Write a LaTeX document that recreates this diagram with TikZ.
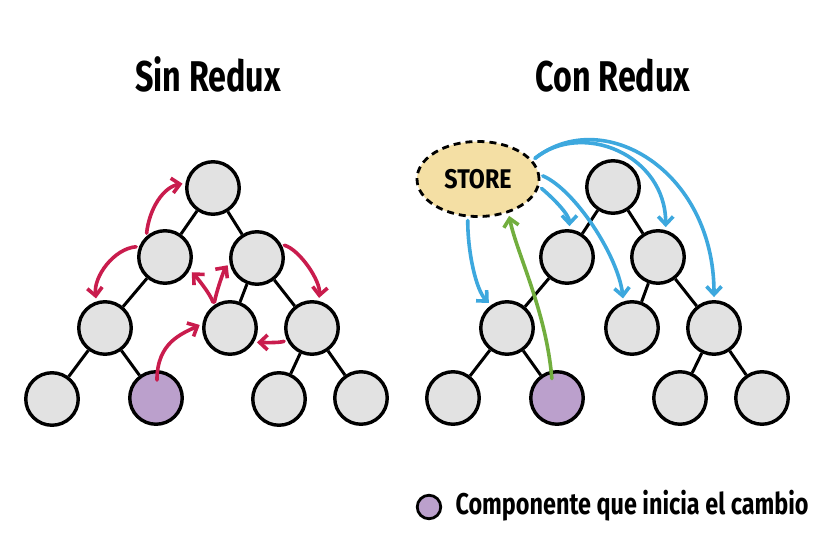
\documentclass[tikz,border=0pt]{standalone}
\usepackage{fontspec}
\setmainfont{Fira Sans}
\usetikzlibrary{arrows.meta}
\usetikzlibrary{shapes.geometric}
\definecolor{nodegray}{HTML}{E2E2E2}
\definecolor{changepurple}{HTML}{BBA0CC}
\definecolor{storeyellow}{HTML}{F4DFA4}
\definecolor{flowred}{HTML}{C91C4D}
\definecolor{flowblue}{HTML}{3DA8DE}
\definecolor{flowgreen}{HTML}{72AE3E}

\begin{document}
\begin{tikzpicture}[x=1pt,y=-1pt,
  comp/.style={circle,draw=black,line width=3.4pt,fill=nodegray,minimum size=52.5pt,inner sep=0pt},
  start/.style={comp,fill=changepurple},
  edge/.style={line width=3pt,draw=black},
  flow/.style={line width=3.6pt,line cap=round,line join=round,shorten >=3pt,shorten <=3pt,
    -{Straight Barb[length=8pt,width=15pt,line width=3.6pt]}},
  redflow/.style={flow,draw=flowred},
  blueflow/.style={flow,draw=flowblue},
  greenflow/.style={flow,draw=flowgreen},
  title/.style={font=\bfseries\fontsize{43}{43}\selectfont,anchor=base}]
  \useasboundingbox (0,0) rectangle (824,537);

  % titles
  \node[title] (tsin) at (208,92) {\scalebox{0.75}[1]{Sin Redux}};
  \node[title] (tcon) at (613,92) {\scalebox{0.75}[1]{Con Redux}};

  % sin redux
  \node[comp] (sr0) at (213,188) {};
  \node[comp] (sl2a) at (165,257) {};
  \node[comp] (sl2b) at (257,258) {};
  \node[comp] (sl3a) at (105,328) {};
  \node[comp] (sl3b) at (230,328) {};
  \node[comp] (sl3c) at (312,328) {};
  \node[comp] (sl4a) at (52,399) {};
  \node[start] (sl4b) at (156,398) {};
  \node[comp] (sl4c) at (279,399) {};
  \node[comp] (sl4d) at (361,398) {};
  \draw[edge] (sr0) -- (sl2a);
  \draw[edge] (sr0) -- (sl2b);
  \draw[edge] (sl2a) -- (sl3a);
  \draw[edge] (sl2b) -- (sl3b);
  \draw[edge] (sl2b) -- (sl3c);
  \draw[edge] (sl3a) -- (sl4a);
  \draw[edge] (sl3a) -- (sl4b);
  \draw[edge] (sl3c) -- (sl4c);
  \draw[edge] (sl3c) -- (sl4d);

  \draw[redflow] (sl2a.132) .. controls +(3,-28) and +(-22,4) .. (sr0.170);
  \draw[redflow] (sl2a.158) .. controls +(-25,2) and +(-3,-25) .. (sl3a.108);
  \draw[redflow] (sl3b.125) .. controls +(-4,-12) and +(6,6) .. (sl2a.-28);
  \draw[redflow] (sl3b.125) .. controls +(2,-12) and +(-6,8) .. (sl2b.190);
  \draw[redflow] (sl2b.29) .. controls +(18,5) and +(2,-20) .. (sl3c.76);
  \draw[redflow] (sl3c.206) .. controls +(-8,3) and +(6,0) .. (sl3b.-31);
  \draw[redflow,shorten <=-10pt] (sl4b.88) .. controls +(0,-28) and +(-20,10) .. (sl3b.171);

  % con redux
  \node[ellipse,draw=black,line width=2.8pt,dash pattern=on 7pt off 5pt,fill=storeyellow,
    minimum width=122pt,minimum height=75pt,inner sep=0pt,
    font=\bfseries\fontsize{27}{27}\selectfont] (store) at (478,179) {\scalebox{0.86}[1]{STORE}};
  \node[comp] (cr0) at (613,187) {};
  \node[comp] (cl2a) at (567,257) {};
  \node[comp] (cl2b) at (658,257) {};
  \node[comp] (cl3a) at (507,328) {};
  \node[comp] (cl3b) at (632,328) {};
  \node[comp] (cl3c) at (714,328) {};
  \node[comp] (cl4a) at (453,398) {};
  \node[start] (cl4b) at (557,398) {};
  \node[comp] (cl4c) at (680,398) {};
  \node[comp] (cl4d) at (762,398) {};
  \draw[edge] (cr0) -- (cl2a);
  \draw[edge] (cr0) -- (cl2b);
  \draw[edge] (cl2a) -- (cl3a);
  \draw[edge] (cl2b) -- (cl3b);
  \draw[edge] (cl2b) -- (cl3c);
  \draw[edge] (cl3a) -- (cl4a);
  \draw[edge] (cl3a) -- (cl4b);
  \draw[edge] (cl3c) -- (cl4c);
  \draw[edge] (cl3c) -- (cl4d);

  \draw[blueflow] (store.-105) .. controls +(0,35) and +(-15,-15) .. (cl3a.125);
  \draw[blueflow] (store.-7) .. controls +(12,10) and +(0,-15) .. (cl2a.85);
  \draw[blueflow] (store.4) .. controls +(35,15) and +(-5,-45) .. (cl3b.108);
  \draw[blueflow] (store.19) .. controls +(50,-40) and +(0,-75) .. (cl2b.74);
  \draw[blueflow] (store.19) .. controls +(70,-55) and +(0,-130) .. (cl3c.90);
  \draw[greenflow,shorten <=-8pt] (cl4b.102) .. controls +(-5,-60) and +(8,40) .. (store.-48);

  % legend
  \node[start,line width=2.8pt,minimum size=23.5pt] (key) at (429,507) {};
  \node[anchor=base west,font=\bfseries\fontsize{30}{30}\selectfont] (keytext) at (452,514)
    {\scalebox{0.78}[1]{Componente que inicia el cambio}};
\end{tikzpicture}
\end{document}
